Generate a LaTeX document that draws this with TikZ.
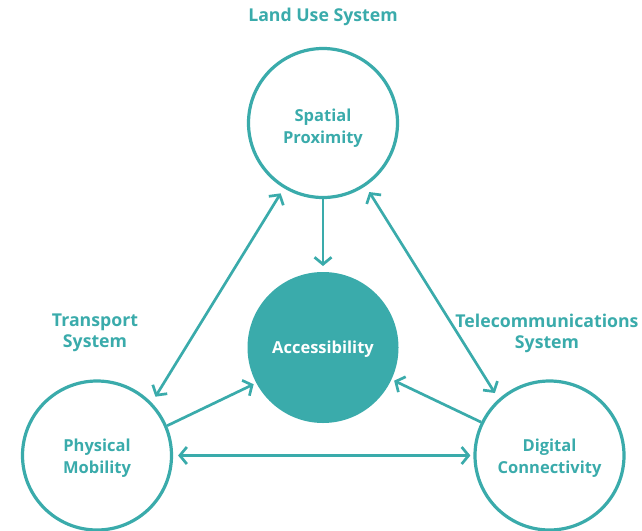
\documentclass[tikz,border=0pt]{standalone}
\usepackage{fontspec}
\setmainfont{Open Sans}
\usetikzlibrary{arrows.meta}
\definecolor{teal1}{HTML}{3AABAB}
\tikzset{
  circ/.style={circle, draw=teal1, line width=3.2pt, minimum size=149pt, inner sep=0pt},
  fcirc/.style={circle, fill=teal1, draw=teal1, line width=3pt, minimum size=148pt, inner sep=0pt},
  ctext/.style={align=center, text=teal1, font=\bfseries\fontsize{16.5}{22}\selectfont},
  ftext/.style={align=center, text=white, font=\bfseries\fontsize{16.5}{22}\selectfont},
  lbl/.style={text=teal1, align=center, font=\bfseries\fontsize{17.7}{21}\selectfont},
  conn/.style={draw=teal1, line width=2.7pt}
}
\begin{document}
\begin{tikzpicture}[x=1pt,y=-1pt,>={Straight Barb[length=7pt,width=17pt]}]
\useasboundingbox (0,0) rectangle (642,530);
\clip (0,0) rectangle (642,530);
\node[circ] (top) at (323,123) {};
\node[fcirc] (acc) at (323,347.5) {};
\node[circ] (phys) at (97,455.5) {};
\node[circ] (dig) at (549.5,455.5) {};
\node[ctext] (topt) at (323,128) {Spatial\\Proximity};
\node[ftext] (acct) at (323,349.5) {Accessibility};
\node[ctext] (physt) at (97,458) {Physical\\Mobility};
\node[ctext] (digt) at (549.5,458) {Digital\\Connectivity};
\node[lbl] (lu) at (323,17) {Land Use System};
\node[lbl] (tr) at (95,333) {Transport\\System};
\node[lbl] (tc) at (547,333) {Telecommunications\\System};
\draw[conn,->] (top.south) -- ([yshift=6pt]acc.north);
\draw[conn,<->, shorten <=7pt, shorten >=6pt] (phys.44) -- (top.239.6);
\draw[conn,<->, shorten <=7pt, shorten >=7pt] (top.304.4) -- (dig.132.8);
\draw[conn,->, shorten >=3pt] (phys.23) -- (acc.208);
\draw[conn,->, shorten >=3pt] (dig.154.4) -- (acc.-25.6);
\draw[conn,<->, shorten <=5pt, shorten >=3pt] (phys.east) -- (dig.west);
\end{tikzpicture}
\end{document}
